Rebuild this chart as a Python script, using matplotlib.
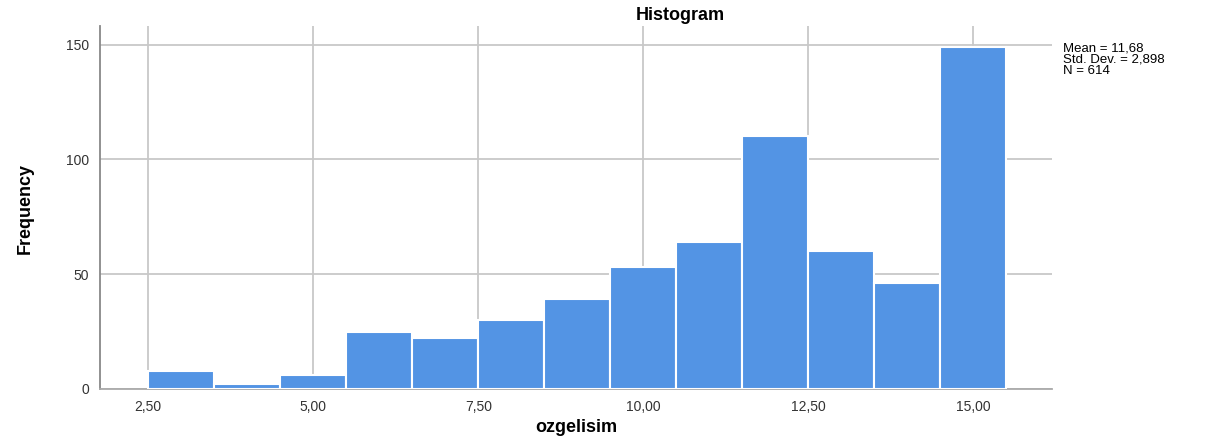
import matplotlib
matplotlib.use("Agg")
import matplotlib.pyplot as plt
from matplotlib import font_manager

# histogram bins (bin centres) and counts read from the SPSS output
bin_centres = [3, 4, 5, 6, 7, 8, 9, 10, 11, 12, 13, 14, 15]
counts = [8, 2, 6, 25, 22, 30, 39, 53, 64, 110, 60, 46, 149]
x_ticks = [2.5, 5.0, 7.5, 10.0, 12.5, 15.0]
x_tick_labels = ["2,50", "5,00", "7,50", "10,00", "12,50", "15,00"]
y_ticks = [0, 50, 100, 150]
stats_text = "Mean = 11,68\nStd. Dev. = 2,898\nN = 614"

plt.rcParams["font.family"] = ["Liberation Sans", "DejaVu Sans"]

# narrow face for the y label, if it is there
names = {f.name for f in font_manager.fontManager.ttflist}
narrow = "Liberation Sans Narrow" if "Liberation Sans Narrow" in names else "Liberation Sans"

fig = plt.figure(figsize=(12.19, 4.43), dpi=100)
ax = fig.add_axes([0.082, 0.122, 0.781, 0.819])

ax.bar(bin_centres, counts, width=1.0, color="#5394e4",
       edgecolor="white", linewidth=1.5, zorder=3)

ax.set_xlim(1.77, 16.19)
ax.set_ylim(0, 158)
ax.set_xticks(x_ticks)
ax.set_xticklabels(x_tick_labels)
ax.set_yticks(y_ticks)

ax.grid(True, color="#c8c8c8", linewidth=1.3, zorder=0)
ax.tick_params(length=0, labelsize=10, colors="#333333", pad=8)

for s in ["top", "right"]:
    ax.spines[s].set_visible(False)
ax.spines["left"].set_color("#888888")
ax.spines["bottom"].set_color("#aaaaaa")
ax.spines["left"].set_linewidth(1.3)
ax.spines["bottom"].set_linewidth(1.3)

fig.text(0.558, 0.965, "Histogram", ha="center", va="center",
         fontsize=13, fontweight="bold")
fig.text(0.473, 0.034, "ozgelisim", ha="center", va="center",
         fontsize=13, fontweight="bold")
fig.text(0.021, 0.53, "Frequency", ha="center", va="center", rotation=90,
         fontsize=13, fontweight="bold", family=narrow)

fig.text(0.872, 0.905, stats_text, ha="left", va="top", fontsize=9.5,
         linespacing=0.95)

fig.savefig("out.png", dpi=100)
